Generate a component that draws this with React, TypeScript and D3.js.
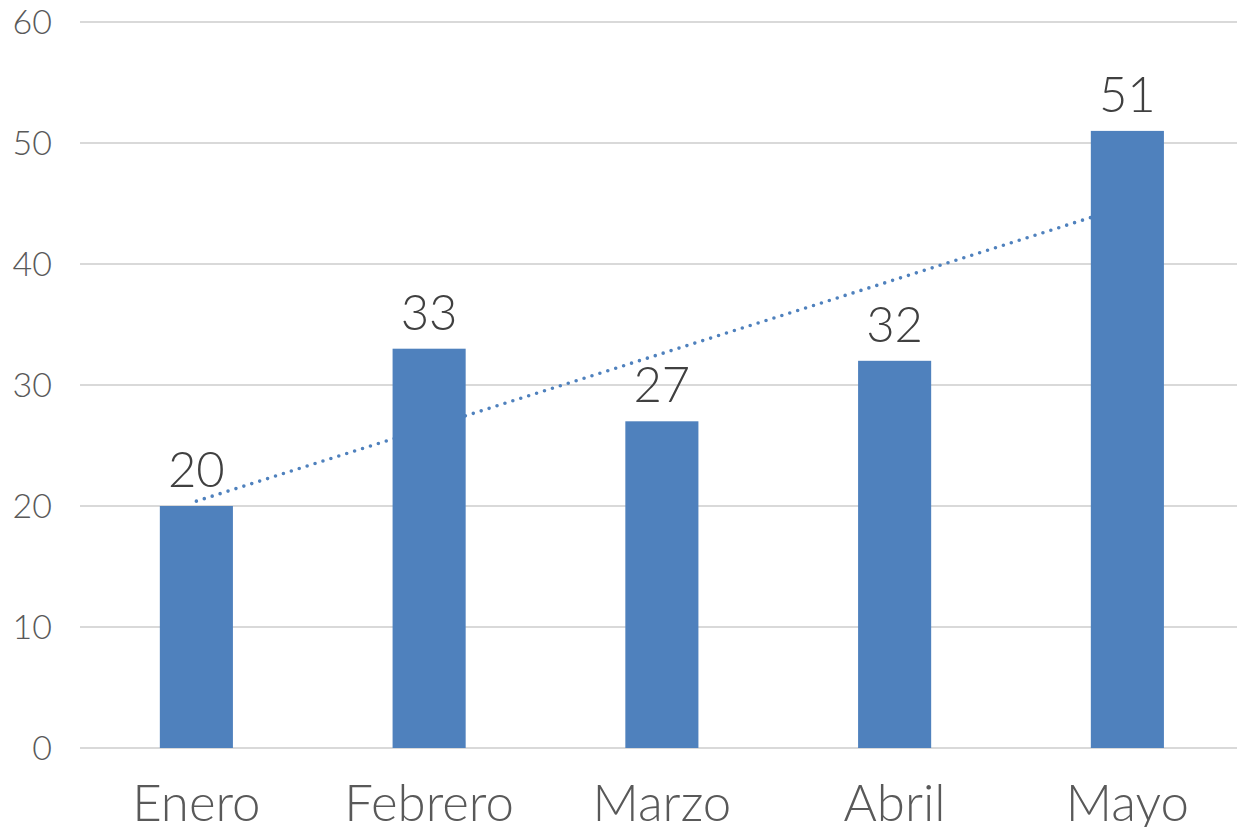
import React, { useRef, useEffect } from 'react';
import * as d3 from 'd3';

const months = ['Enero', 'Febrero', 'Marzo', 'Abril', 'Mayo'];
const values = [20, 33, 27, 32, 51];
const yTicks = [0, 10, 20, 30, 40, 50, 60];

const W = 1237;
const H = 827;

const App = () => {
  const svgRef = useRef<SVGSVGElement>(null);

  useEffect(() => {
    const svg = d3.select(svgRef.current);
    svg.selectAll('*').remove();

    const font = 'Lato, "Open Sans", sans-serif';
    const x = d3.scaleBand<string>().domain(months).range([80, 1243.75]).padding(0);
    const y = d3.scaleLinear().domain([0, 60]).range([748, 22]);
    const barW = x.bandwidth() * 0.314;

    // gridlines
    svg.append('g')
      .selectAll('line')
      .data(yTicks)
      .join('line')
      .attr('x1', 80)
      .attr('x2', W)
      .attr('y1', d => y(d))
      .attr('y2', d => y(d))
      .attr('stroke', '#d9d9d9')
      .attr('stroke-width', 2);

    svg.append('g')
      .selectAll('text')
      .data(yTicks)
      .join('text')
      .attr('x', 52)
      .attr('y', d => y(d))
      .attr('dy', '0.35em')
      .attr('text-anchor', 'end')
      .attr('font-family', font)
      .attr('font-weight', 300)
      .attr('font-size', 34)
      .attr('fill', '#595959')
      .text(d => d);

    // linear trend
    const xs = values.map((_, i) => i);
    const mx = d3.mean(xs)!;
    const my = d3.mean(values)!;
    const slope = d3.sum(xs, i => (i - mx) * (values[i] - my)) / d3.sum(xs, i => (i - mx) ** 2);
    const icpt = my - slope * mx;
    const cx = (i: number) => x(months[i])! + x.bandwidth() / 2;
    svg.append('line')
      .attr('x1', cx(0))
      .attr('y1', y(icpt))
      .attr('x2', cx(4))
      .attr('y2', y(icpt + slope * 4))
      .attr('stroke', '#4f81bd')
      .attr('stroke-width', 3.6)
      .attr('stroke-linecap', 'round')
      .attr('stroke-dasharray', '0 8.3');

    svg.append('g')
      .selectAll('rect')
      .data(values)
      .join('rect')
      .attr('x', (_, i) => cx(i) - barW / 2)
      .attr('y', d => y(d))
      .attr('width', barW)
      .attr('height', d => y(0) - y(d))
      .attr('fill', '#4f81bd');

    svg.append('g')
      .selectAll('text')
      .data(values)
      .join('text')
      .attr('x', (_, i) => cx(i))
      .attr('y', d => y(d) - 19)
      .attr('text-anchor', 'middle')
      .attr('font-family', font)
      .attr('font-weight', 300)
      .attr('font-size', 49)
      .attr('fill', '#404040')
      .text(d => d);

    svg.append('g')
      .selectAll('text')
      .data(months)
      .join('text')
      .attr('x', d => x(d)! + x.bandwidth() / 2)
      .attr('y', 821)
      .attr('text-anchor', 'middle')
      .attr('font-family', font)
      .attr('font-weight', 300)
      .attr('font-size', 51)
      .attr('fill', '#595959')
      .text(d => d);
  }, []);

  return (
    <svg
      ref={svgRef}
      width={W}
      height={H}
      style={{ position: 'absolute', left: 0, top: 0, background: '#fff' }}
    />
  );
};

export default App;
